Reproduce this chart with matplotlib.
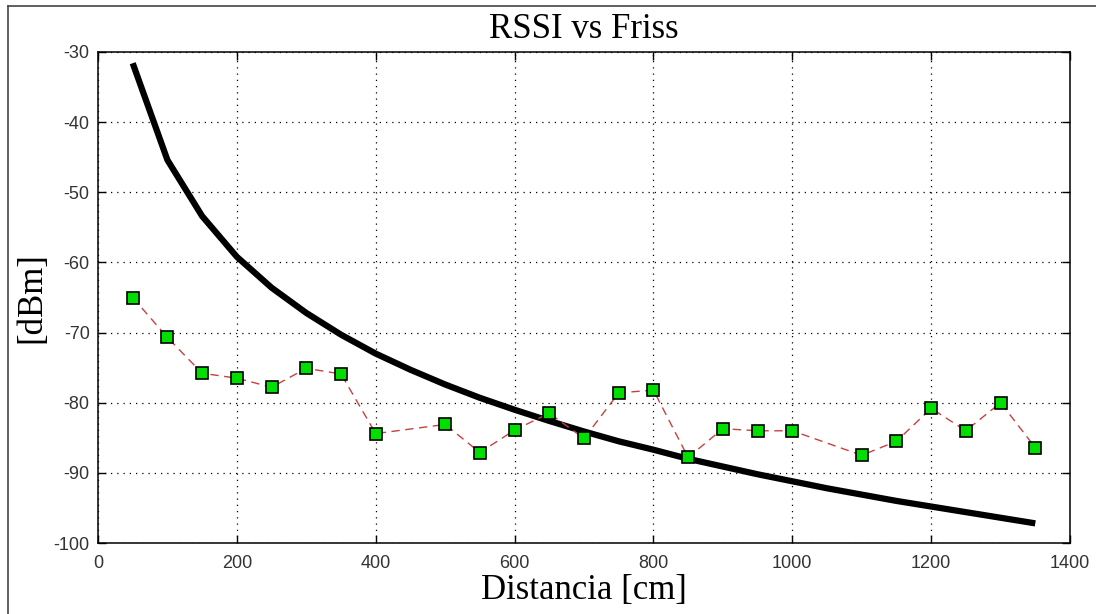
import matplotlib
matplotlib.use('Agg')
import matplotlib.pyplot as plt
from matplotlib.lines import Line2D

# measured RSSI (green squares)
dist_rssi = [50, 100, 150, 200, 250, 300, 350, 400, 500, 550, 600, 650, 700,
             750, 800, 850, 900, 950, 1000, 1100, 1150, 1200, 1250, 1300, 1350]
rssi = [-65.0, -70.7, -75.8, -76.5, -77.8, -75.1, -75.9, -84.4, -83.1, -87.1,
        -83.9, -81.5, -85.1, -78.6, -78.2, -87.8, -83.7, -84.0, -84.0, -87.5,
        -85.5, -80.8, -84.0, -80.0, -86.4]

# Friis curve (black)
dist_friis = [50, 100, 150, 200, 250, 300, 350, 400, 450, 500, 550, 600, 650, 700,
              750, 800, 850, 900, 950, 1000, 1050, 1100, 1150, 1200, 1250, 1300, 1350]
friis = [-31.6, -45.4, -53.4, -59.2, -63.6, -67.2, -70.3, -73.0, -75.3, -77.4,
         -79.3, -81.0, -82.6, -84.1, -85.5, -86.7, -88.0, -89.1, -90.2, -91.2,
         -92.2, -93.1, -94.0, -94.8, -95.6, -96.4, -97.2]

xticks = [0, 200, 400, 600, 800, 1000, 1200, 1400]
yticks = [-100, -90, -80, -70, -60, -50, -40, -30]

serif = ['Liberation Serif', 'DejaVu Serif']
sans = ['Liberation Sans', 'DejaVu Sans']

fig = plt.figure(figsize=(10.96, 6.14), dpi=100)
ax = fig.add_axes([98/1096, 1 - 543/614, (1070 - 98)/1096, (543 - 52)/614])

ax.plot(dist_friis, friis, color='black', lw=4.5, solid_capstyle='butt', zorder=3)
ax.plot(dist_rssi, rssi, color='#c84040', lw=1.0, linestyle=(0, (6, 4)),
        marker='s', markersize=9, markerfacecolor='#00e000',
        markeredgecolor='black', markeredgewidth=1.2, zorder=4)

ax.set_xlim(0, 1400)
ax.set_ylim(-100, -30)
ax.set_xticks(xticks)
ax.set_yticks(yticks)
ax.set_xticklabels([str(v) for v in xticks], family=sans, fontsize=13, color='#333333')
ax.set_yticklabels([str(v) for v in yticks], family=sans, fontsize=13, color='#333333')
ax.tick_params(direction='in', length=6, width=1, top=True, right=True)
ax.tick_params(axis='x', pad=9)
ax.tick_params(axis='y', pad=6)
ax.grid(True, color='black', linestyle=(0, (1, 4)), lw=0.9)
for s in ax.spines.values():
    s.set_linewidth(1.1)

ax.set_title('RSSI vs Friss', family=serif, fontsize=25, pad=10)
ax.set_xlabel('Distancia [cm]', family=serif, fontsize=25, labelpad=1)
ax.set_ylabel('[dBm]', family=serif, fontsize=25, labelpad=4)

# outer frame (left and top edges visible)
fig.add_artist(Line2D([8/1096, 8/1096], [0, 1 - 6/614], transform=fig.transFigure,
                      color='#444444', lw=1.2))
fig.add_artist(Line2D([8/1096, 1], [1 - 6/614, 1 - 6/614], transform=fig.transFigure,
                      color='#444444', lw=1.2))

fig.savefig('out.png', dpi=100)
